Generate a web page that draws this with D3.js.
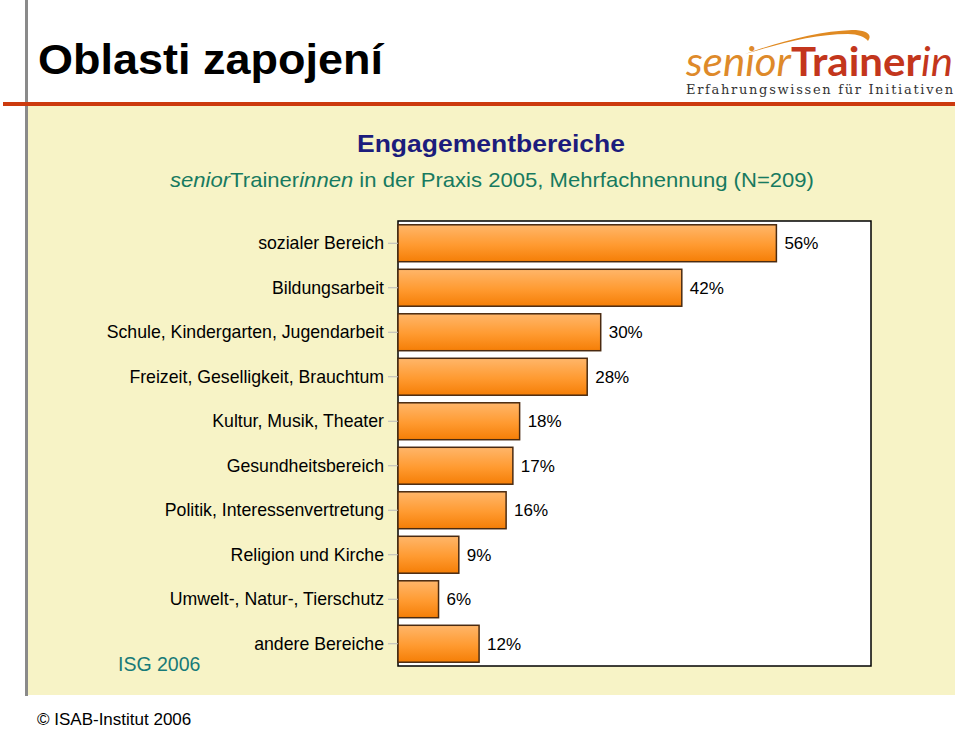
<!DOCTYPE html>
<html><head><meta charset="utf-8">
<script src="https://cdn.jsdelivr.net/npm/d3@7"></script>
<style>html,body{margin:0;padding:0;background:#fff;}svg{display:block;}</style>
</head><body>
<svg id="chart" width="960" height="729"></svg>
<script>
const categories = ["sozialer Bereich","Bildungsarbeit","Schule, Kindergarten, Jugendarbeit","Freizeit, Geselligkeit, Brauchtum","Kultur, Musik, Theater","Gesundheitsbereich","Politik, Interessenvertretung","Religion und Kirche","Umwelt-, Natur-, Tierschutz","andere Bereiche"];
const values = [56,42,30,28,18,17,16,9,6,12];
const valueLabels = ["56%","42%","30%","28%","18%","17%","16%","9%","6%","12%"];
const xDomain = [0,70];

const svg = d3.select("#chart");
const F = "Liberation Sans, Arial, sans-serif";

// panel
svg.append("rect").attr("x",28).attr("y",106).attr("width",927).attr("height",589).attr("fill","#f7f3c6");
svg.append("rect").attr("x",25).attr("y",0).attr("width",3).attr("height",696).attr("fill","#8a8a8a");
svg.append("rect").attr("x",3).attr("y",102).attr("width",952).attr("height",4).attr("fill","#cc3a0e");

// title
svg.append("text").attr("x",38).attr("y",74).attr("font-family",F).attr("font-weight","bold")
  .attr("font-size",43).attr("fill","#000").attr("textLength",345).attr("lengthAdjust","spacingAndGlyphs").text("Oblasti zapojení");

// logo
svg.append("path")
  .attr("d","M745,54 C778,42 820,31 852,30 C866,30 873,34 868,41 C865,37 858,34 848,34 C815,34 782,43 745,54 Z")
  .attr("fill","#e08a22");
const logo = svg.append("text").attr("x",686).attr("y",76).attr("font-family","Lato, 'Open Sans', sans-serif")
  .attr("font-size",40).attr("textLength",267).attr("lengthAdjust","spacingAndGlyphs");
logo.append("tspan").attr("font-style","italic").attr("fill","#de8a2a").text("senior");
logo.append("tspan").attr("fill","#c3361c").attr("font-weight","bold").text("Trainer");
logo.append("tspan").attr("font-style","italic").attr("fill","#c3361c").text("in");
svg.append("text").attr("x",686).attr("y",94).attr("font-family","DejaVu Serif, serif").attr("font-size",13)
  .attr("fill","#333").attr("textLength",267).attr("lengthAdjust","spacing").text("Erfahrungswissen für Initiativen");

// headings
svg.append("text").attr("x",491).attr("y",152).attr("text-anchor","middle").attr("font-family",F)
  .attr("font-weight","bold").attr("font-size",24).attr("fill","#1c1c7c")
  .attr("textLength",268).attr("lengthAdjust","spacingAndGlyphs").text("Engagementbereiche");
const sub = svg.append("text").attr("x",492).attr("y",187).attr("text-anchor","middle").attr("font-family",F)
  .attr("font-size",21).attr("fill","#177a60").attr("textLength",644).attr("lengthAdjust","spacingAndGlyphs");
sub.append("tspan").attr("font-style","italic").text("senior");
sub.append("tspan").text("Trainer");
sub.append("tspan").attr("font-style","italic").text("innen");
sub.append("tspan").text(" in der Praxis 2005, Mehrfachnennung (N=209)");

// plot
const x0 = 398, x1 = 871, y0 = 221, y1 = 666;
const x = d3.scaleLinear().domain(xDomain).range([x0, x1]);
const y = d3.scaleBand().domain(categories).range([y0, y1]).paddingInner(0.17).paddingOuter(0.085);

svg.append("rect").attr("x",x0).attr("y",y0).attr("width",x1-x0).attr("height",y1-y0)
  .attr("fill","#fff").attr("stroke","#000").attr("stroke-width",1.5);

const defs = svg.append("defs");
const g = defs.append("linearGradient").attr("id","barGrad").attr("x1",0).attr("y1",0).attr("x2",0).attr("y2",1);
g.append("stop").attr("offset","0%").attr("stop-color","#ffb66a");
g.append("stop").attr("offset","55%").attr("stop-color","#ff9a30");
g.append("stop").attr("offset","100%").attr("stop-color","#f57e06");

svg.selectAll("rect.bar").data(values).join("rect").attr("class","bar")
  .attr("x",x(0)).attr("y",(d,i)=>y(categories[i])).attr("width",d=>x(d)-x(0)).attr("height",y.bandwidth())
  .attr("fill","url(#barGrad)").attr("stroke","#4a2a10").attr("stroke-width",1.5);

svg.selectAll("text.val").data(values).join("text").attr("class","val")
  .attr("x",d=>x(d)+8).attr("y",(d,i)=>y(categories[i])+y.bandwidth()/2+6)
  .attr("font-family",F).attr("font-size",17).attr("fill","#000").text((d,i)=>valueLabels[i]);

const yAxis = svg.append("g").attr("transform",`translate(${x0},0)`)
  .call(d3.axisLeft(y).tickSize(10).tickPadding(4));
yAxis.select(".domain").remove();
yAxis.selectAll(".tick line").attr("stroke","#bbb");
yAxis.selectAll(".tick text").attr("font-family",F).attr("font-size",17.7).attr("fill","#000").attr("dy","0.35em");

// footer
svg.append("text").attr("x",118).attr("y",671).attr("font-family",F).attr("font-size",19.5).attr("fill","#177a78").text("ISG 2006");
svg.append("text").attr("x",37).attr("y",725).attr("font-family",F).attr("font-size",17).attr("fill","#000").text("© ISAB-Institut 2006");
</script>
</body></html>
